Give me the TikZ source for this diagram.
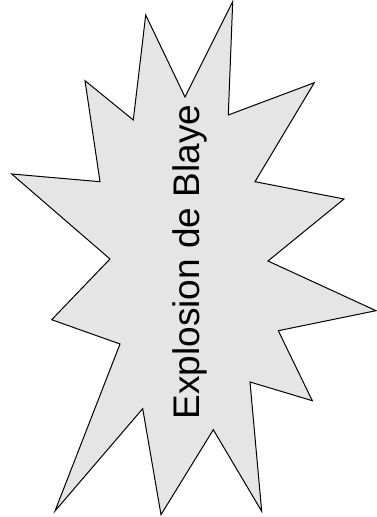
\documentclass[tikz,border=0pt]{standalone}
\usepackage{fontspec}
\setmainfont{Liberation Sans}
\begin{document}
\begin{tikzpicture}[x=1pt,y=1pt,
  burst/.style={draw=black,line width=1pt,fill=black!10,line join=miter},
  label/.style={font=\fontsize{37}{40}\selectfont,rotate=90,anchor=base,inner sep=0pt}]
\useasboundingbox (0,0) rectangle (377,517);
\draw[burst] (232.7,515.3) -- (185,420) -- (145.7,502) -- (133.3,397) -- (85,436.3)
  -- (100,335.3) -- (11.7,343) -- (110,258) -- (51.7,197.3) -- (120,173)
  -- (55,6) -- (142.7,108.3) -- (161,2.3) -- (213.3,87.3) -- (261.7,5.7)
  -- (250,135) -- (312.3,116.3) -- (278.3,186.3) -- (376,206.3) -- (268,256)
  -- (344,318) -- (255,335.3) -- (314.3,434.3) -- (228.3,402) -- cycle;
\node[label] (t) at (199,255) {Explosion de Blaye};
\end{tikzpicture}
\end{document}
